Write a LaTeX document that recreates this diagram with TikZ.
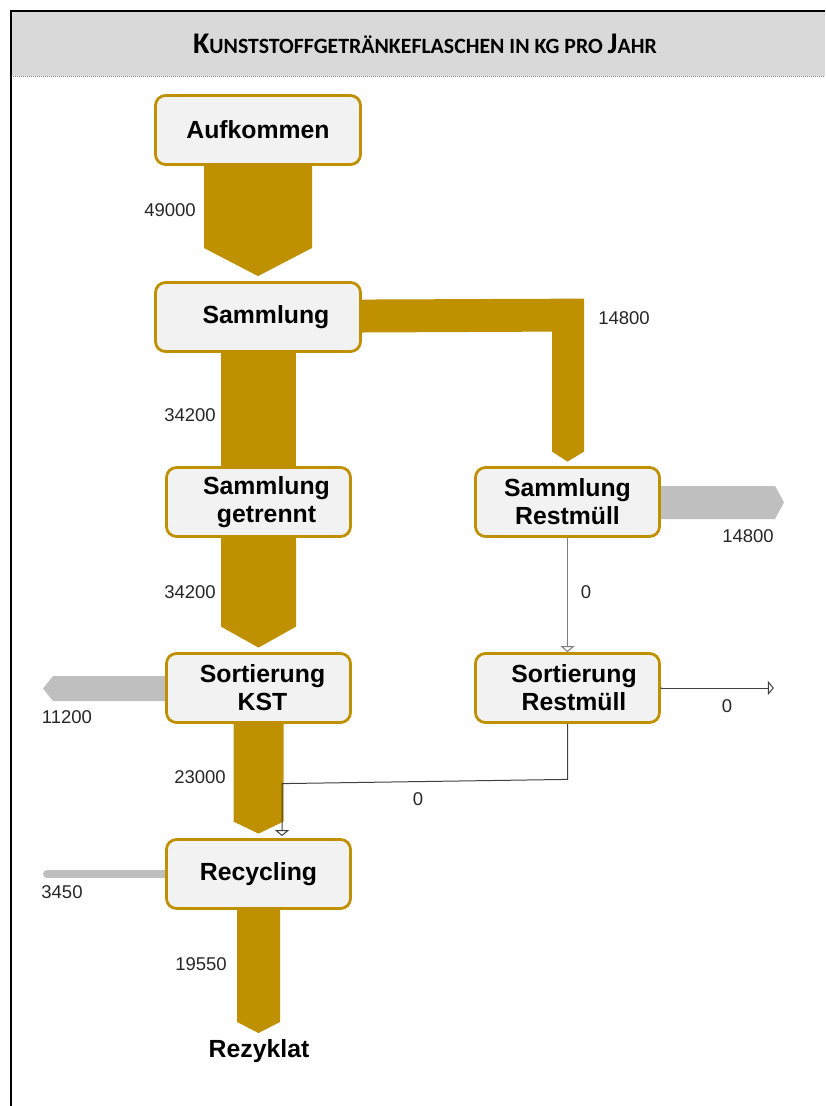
\documentclass[tikz,border=0pt]{standalone}
\usepackage{fontspec}
\setmainfont{Liberation Sans}
\newfontfamily\calfont{Carlito}
\usetikzlibrary{calc,arrows.meta,backgrounds}
\definecolor{gold}{HTML}{BF9000}
\definecolor{boxfill}{HTML}{F2F2F2}
\definecolor{outgray}{HTML}{BFBFBF}
\definecolor{titlebar}{HTML}{D9D9D9}
\definecolor{labelc}{HTML}{262626}
\definecolor{thinc}{HTML}{7F7F7F}
\tikzset{
  procbox/.style={draw=gold, line width=2.8pt, fill=boxfill, rounded corners=10pt,
    minimum height=69pt, inner sep=0pt, align=center,
    font=\bfseries\fontsize{24.8}{28}\selectfont},
  wide/.style={minimum width=205pt},
  narrow/.style={minimum width=184pt},
  flowlabel/.style={font=\fontsize{18.5}{22}\selectfont, text=labelc, inner sep=0pt},
  goldflow/.style={fill=gold},
  grayflow/.style={fill=outgray},
  thinflow/.style={draw=thinc, line width=1pt, -{Triangle[open, length=6pt, width=14pt]}},
}
\begin{document}
\begin{tikzpicture}[x=1pt, y=-1pt]
\useasboundingbox (0,0) rectangle (825,1106);
% title bar
\fill[titlebar] (11,11) rectangle (825,76);
\draw[thinc, densely dotted, line width=1pt] (11,76) -- (825,76);
\draw[line width=2.5pt] (11,1106) -- (11,11) -- (825,11);
\node[anchor=base, inner sep=0pt] (title) at (425,53)
  {\calfont\bfseries\fontsize{30}{34}\selectfont K\fontsize{21.8}{34}\selectfont UNSTSTOFFGETRÄNKEFLASCHEN IN KG PRO \fontsize{30}{34}\selectfont J\fontsize{21.8}{34}\selectfont AHR};

% process nodes
\node[procbox, wide] (auf) at (258,130) {Aufkommen};
\node[procbox, wide] (sam) at (258,317) {\hspace*{16pt}Sammlung};
\node[procbox, narrow] (sg) at (258.5,502) {\hspace*{16pt}Sammlung\\\hspace*{16pt}getrennt};
\node[procbox, narrow] (sr) at (567.5,502) {Sammlung\\Restmüll};
\node[procbox, narrow] (sk) at (258.5,688) {\hspace*{8pt}Sortierung\\\hspace*{8pt}KST};
\node[procbox, narrow] (srm) at (567.5,688) {\hspace*{13pt}Sortierung\\\hspace*{13pt}Restmüll};
\node[procbox, narrow] (rec) at (258.5,874) {Recycling};
\node[font=\bfseries\fontsize{24.8}{28}\selectfont, inner sep=0pt] (rez) at (259,1051) {Rezyklat};

\begin{scope}[on background layer]
% gold flows
\fill[goldflow] ($(auf)+(-54,0)$) -- ($(auf)+(54,0)$) -- ($(auf)+(54,118)$)
  -- ($(sam.north)+(0,-5)$) -- ($(auf)+(-54,118)$) -- cycle;
\fill[goldflow] ($(sam)+(-37,0)$) rectangle ($(sg)+(37.5,0)$);
\fill[goldflow] ($(sam)+(0,-17)$) -- ($(sr.north)+(16.5,-167.5)$) -- ($(sr.north)+(16.5,-14.5)$)
  -- ($(sr.north)+(0,-4.5)$) -- ($(sr.north)+(-15.5,-14.5)$) -- ($(sr.north)+(-15.5,-134.5)$)
  -- ($(sam)+(0,16)$) -- cycle;
\fill[goldflow] ($(sg)+(-37.5,0)$) -- ($(sg)+(37.5,0)$) -- ($(sk.north)+(37.5,-25.5)$)
  -- ($(sk.north)+(0,-4.5)$) -- ($(sk.north)+(-37.5,-25.5)$) -- cycle;
\fill[goldflow] ($(sk)+(-25,0)$) -- ($(sk)+(25,0)$) -- ($(rec.north)+(25,-16.5)$)
  -- ($(rec.north)+(0,-4.5)$) -- ($(rec.north)+(-25,-16.5)$) -- cycle;
\fill[goldflow] ($(rec)+(-21.5,0)$) -- ($(rec)+(21.5,0)$) -- ($(rec)+(21.5,148)$)
  -- ($(rec)+(0,159)$) -- ($(rec)+(-21.5,148)$) -- cycle;
% gray outflows
\fill[grayflow] ($(sr)+(0,-16)$) -- ($(sr)+(207.5,-16)$) -- ($(sr)+(216.5,0.5)$)
  -- ($(sr)+(207.5,17)$) -- ($(sr)+(0,17)$) -- cycle;
\fill[grayflow] ($(sk)+(0,-12)$) -- ($(sk)+(-205.5,-12)$) -- ($(sk)+(-215.5,0.5)$)
  -- ($(sk)+(-205.5,13)$) -- ($(sk)+(0,13)$) -- cycle;
\coordinate (recout) at ($(rec)+(-211.5,0)$);
\draw[outgray, line width=8pt, line cap=round] (rec) -- (recout);
\end{scope}

% thin flows
\draw[thinflow] (sr.south) -- (srm.north);
\coordinate (srmout) at ($(srm.east)+(113,0)$);
\fill[thinc] (srm.east) circle (1.2pt);
\draw[thinflow, draw=black!75] (srm.east) -- (srmout);
\coordinate (c1) at ($(srm.south)+(0,55.5)$);
\coordinate (c2) at ($(rec.north)+(23.5,-54.5)$);
\draw[thinflow, draw=black!75, shorten >=2pt] (srm.south) -- (c1) -- (c2) -- (c2 |- rec.north);

% labels
\node[flowlabel] (l1) at (170,210) {49000};
\node[flowlabel] (l2) at (624,318) {14800};
\node[flowlabel] (l3) at (190,415) {34200};
\node[flowlabel] (l4) at (190,592) {34200};
\node[flowlabel] (l5) at (748,536) {14800};
\node[flowlabel] (l6) at (586,592) {0};
\node[flowlabel] (l7) at (727,706) {0};
\node[flowlabel] (l8) at (67,717) {11200};
\node[flowlabel] (l9) at (200,777) {23000};
\node[flowlabel] (l10) at (418,799) {0};
\node[flowlabel] (l11) at (62,892) {3450};
\node[flowlabel] (l12) at (201,964) {19550};
\end{tikzpicture}
\end{document}
